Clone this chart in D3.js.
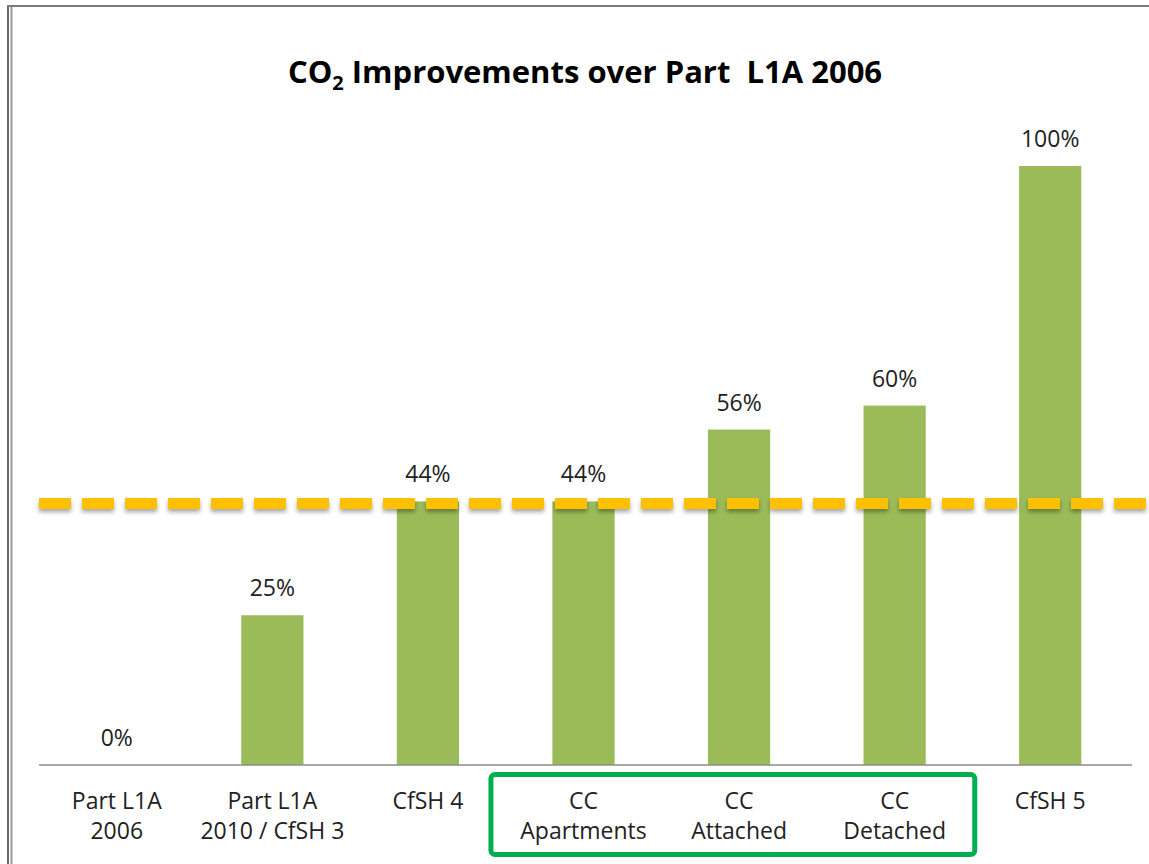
<!DOCTYPE html>
<html>
<head>
<meta charset="utf-8">
<script src="https://cdn.jsdelivr.net/npm/d3@7"></script>
<style>
  body { margin: 0; background: #fff; }
  svg { display: block; }
  text { font-family: "Open Sans", "DejaVu Sans", sans-serif; fill: #222; }
</style>
</head>
<body>
<svg width="1149" height="864"></svg>
<script>
// data
var categories = ["Part L1A|2006", "Part L1A|2010 / CfSH 3", "CfSH 4", "CC|Apartments", "CC|Attached", "CC|Detached", "CfSH 5"];
var values = [0, 0.25, 0.44, 0.44, 0.56, 0.60, 1.00];
var valueLabels = ["0%", "25%", "44%", "44%", "56%", "60%", "100%"];
var targetLevel = [0.44];
var grouped = ["CC|Apartments", "CC|Attached", "CC|Detached"];

var svg = d3.select("svg"),
    width = +svg.attr("width"),
    height = +svg.attr("height");

var margin = { left: 39, right: 21, top: 166, bottom: 99 };

var x = d3.scaleBand()
    .domain(categories)
    .range([margin.left, width - margin.right])
    .paddingInner(0.6)
    .paddingOuter(0.3);

var y = d3.scaleLinear()
    .domain([0, 1])
    .range([height - margin.bottom, margin.top]);

// frame
svg.append("line").attr("x1", 8).attr("x2", 8).attr("y1", 5).attr("y2", height)
    .attr("stroke", "#666a6e").attr("stroke-width", 2);
svg.append("line").attr("x1", 11.5).attr("x2", 11.5).attr("y1", 7).attr("y2", height)
    .attr("stroke", "#9a9a9a").attr("stroke-width", 2);
svg.append("line").attr("x1", 7).attr("x2", width).attr("y1", 6).attr("y2", 6)
    .attr("stroke", "#7a7d80").attr("stroke-width", 2);

// title
var title = svg.append("text")
    .attr("x", 585).attr("y", 83)
    .attr("text-anchor", "middle")
    .style("white-space", "pre")
    .style("font-size", "31px").style("font-weight", "bold").style("fill", "#000");
title.append("tspan").text("CO");
title.append("tspan").text("2").style("font-size", "20px").attr("dy", 7);
title.append("tspan").text(" Improvements over Part  L1A 2006").attr("dy", -7);

// bars
svg.append("g")
    .selectAll("rect")
    .data(values)
    .enter().append("rect")
    .attr("x", function (d, i) { return x(categories[i]); })
    .attr("width", x.bandwidth())
    .attr("y", function (d) { return y(d); })
    .attr("height", function (d) { return y(0) - y(d); })
    .attr("fill", "#9bbb59");

// value labels
svg.append("g")
    .selectAll("text")
    .data(values)
    .enter().append("text")
    .attr("x", function (d, i) { return x(categories[i]) + x.bandwidth() / 2; })
    .attr("y", function (d) { return y(d) - 19; })
    .attr("text-anchor", "middle")
    .style("font-size", "23px")
    .text(function (d, i) { return valueLabels[i]; });

// x axis
var axis = svg.append("g")
    .attr("transform", "translate(0," + y(0) + ")")
    .call(d3.axisBottom(x).tickSize(0).tickFormat(""));
axis.select(".domain").attr("stroke", "#8c8c8c").attr("stroke-width", 1.5)
    .attr("d", "M" + margin.left + ",0H" + (width - 17));

// category labels (two lines)
var cat = svg.append("g")
    .selectAll("text")
    .data(categories)
    .enter().append("text")
    .attr("x", function (d) { return x(d) + x.bandwidth() / 2; })
    .attr("y", y(0) + 44)
    .attr("text-anchor", "middle")
    .style("font-size", "23px");
cat.each(function (d) {
    var t = d3.select(this);
    d.split("|").forEach(function (line, k) {
        t.append("tspan")
            .attr("x", x(d) + x.bandwidth() / 2)
            .attr("dy", k === 0 ? 0 : 30)
            .text(line);
    });
});

// dashed target line with a soft shadow
var defs = svg.append("defs");
var f = defs.append("filter").attr("id", "shadow")
    .attr("filterUnits", "userSpaceOnUse")
    .attr("x", 0).attr("y", 0).attr("width", width).attr("height", height);
f.append("feDropShadow").attr("dx", 0).attr("dy", 3).attr("stdDeviation", 2)
    .attr("flood-color", "#000").attr("flood-opacity", 0.35);

svg.append("g")
    .attr("filter", "url(#shadow)")
    .selectAll("line")
    .data(targetLevel)
    .enter().append("line")
    .attr("x1", margin.left).attr("x2", width + 10)
    .attr("y1", function (d) { return y(d) + 2; })
    .attr("y2", function (d) { return y(d) + 2; })
    .attr("stroke", "#ffc000")
    .attr("stroke-width", 11)
    .attr("stroke-dasharray", "32,11");

// green box round the CC group
var step = x.step();
var boxLeft = x(grouped[0]) + x.bandwidth() / 2 - 0.595 * step;
var boxRight = x(grouped[grouped.length - 1]) + x.bandwidth() / 2 + 0.515 * step;
svg.append("rect")
    .attr("x", boxLeft)
    .attr("y", y(0) + 9.5)
    .attr("width", boxRight - boxLeft)
    .attr("height", 80)
    .attr("rx", 4)
    .attr("fill", "none")
    .attr("stroke", "#00b050")
    .attr("stroke-width", 5);
</script>
</body>
</html>
